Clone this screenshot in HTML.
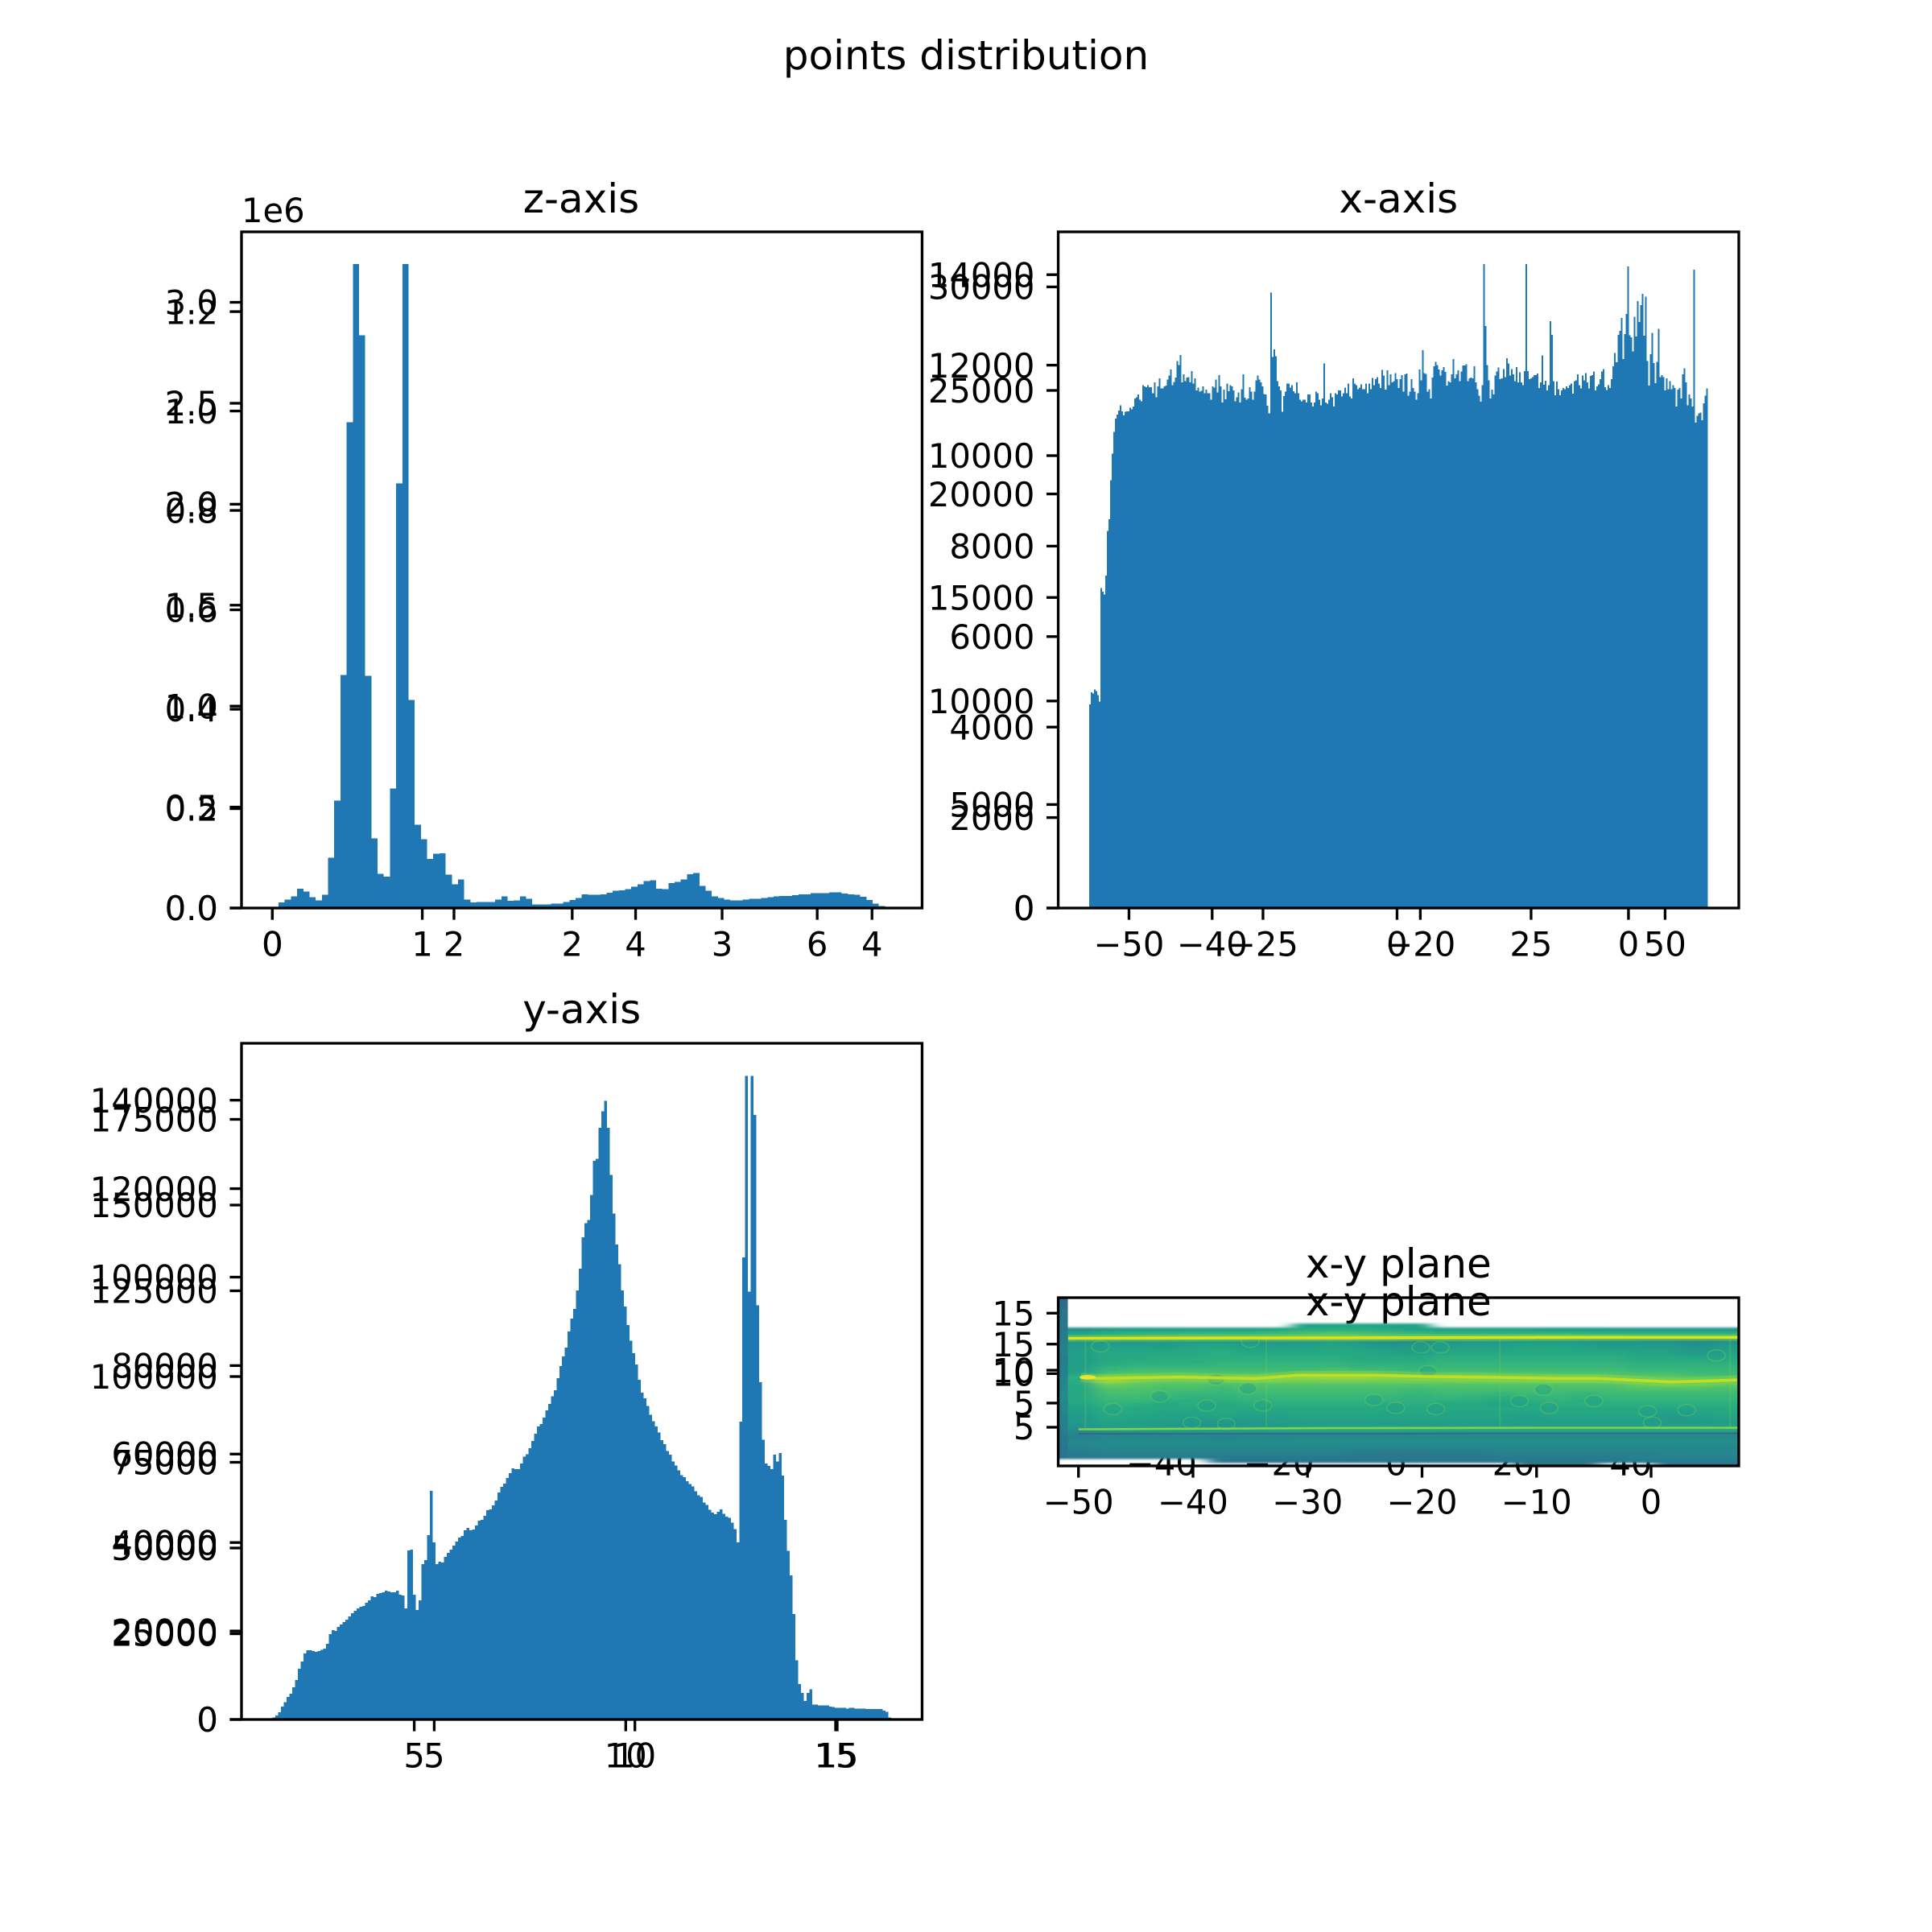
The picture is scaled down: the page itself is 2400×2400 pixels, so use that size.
<!DOCTYPE html>
<html lang="en">
<head>
<meta charset="utf-8">
<title>points distribution</title>
<style>
html,body{margin:0;padding:0;background:#fff;width:2400px;height:2400px;overflow:hidden}
svg{display:block}
text{font-family:"DejaVu Sans","Liberation Sans",sans-serif;fill:#000}
.tick{font-size:41.67px}
.title{font-size:50px;text-anchor:middle}
</style>
</head>
<body>
<svg id="fig" xmlns="http://www.w3.org/2000/svg" width="2400" height="2400" viewBox="0 0 2400 2400">
  <defs>
    <clipPath id="xy-clip"><rect x="1314.5" y="1612" width="845.5" height="209"/></clipPath>
    <filter id="heat-blur" filterUnits="userSpaceOnUse" x="1250" y="1620" width="980" height="220"><feGaussianBlur stdDeviation="10 1.2"/></filter>
  </defs>
  <rect x="0" y="0" width="2400" height="2400" fill="#fff"/>
  <text class="title" x="1200" y="86">points distribution</text>

  <g id="z-panel">
    <text class="title" x="722" y="264">z-axis</text>
    <text class="tick" x="300" y="276">1e6</text>
  </g>
  <g id="x-panel">
    <text class="title" x="1737.3" y="264">x-axis</text>
  </g>
  <g id="y-panel">
    <text class="title" x="722.7" y="1271">y-axis</text>
  </g>
  <g id="xy-under">
    <text class="title" x="1737.3" y="1634">x-y plane</text>
  </g>
  <g id="xy-heat" clip-path="url(#xy-clip)">
    <g id="xy-cells" filter="url(#heat-blur)"></g>
  </g>
  <g id="xy-over">
    <text class="title" x="1737.3" y="1587">x-y plane</text>
  </g>
</svg>
<script>
// ---------- z-axis histogram data (thousands of points per bin) ----------
const zCounts = [0,28,43,59,97,82,54,38,66,250,
534,1160,2417,3204,2851,1155,347,171,156,595,
2113,3204,1035,414,342,245,271,273,166,118,
143,43,28,31,31,31,43,59,36,38,
59,46,18,18,18,23,23,31,41,51,
69,66,66,69,77,87,89,95,107,118,
135,138,97,95,125,130,143,169,174,110,
87,59,51,43,38,38,43,46,46,51,
54,59,61,61,64,69,69,74,74,74,
79,79,72,69,66,56,41,23,10,3];
const zXTicksA = [0,1,2,3,4];
const zXTicksB = [0,2,4,6];
const zYTicksA = [0,0.5,1,1.5,2,2.5,3];
const zYTicksB = [0,0.2,0.4,0.6,0.8,1,1.2];

// ---------- x-axis histogram data (hundreds of points per bin) ----------
const xCounts = [98.6,104.5,103.9,105.8,105.2,103.2,100,155,153.3,152,161,182.8,188.4,207.2,220.2,230.6,237.1,239,241,243.6,240.7,238.7,240.4,240.7,240.7,242.3,241.6,243,246.9,247.5,248.8,246.2,245.5,
253.4,252.7,252.3,253.4,252.4,252.3,249.5,254.6,247.5,252.7,256.6,251.7,251.7,252.7,253.1,256,257.9,260.9,253.4,254.9,257,265.1,263.1,267.9,254.6,258.6,255.3,257.1,257.3,254.6,260.1,254,256.6,250.7,252.1,250.1,250.5,252.7,249.5,251.1,249.5,249.5,246.2,252.7,252.1,256,249.8,258.2,252.7,244.9,251.1,246.5,254,250.4,253.4,252.7,250.7,245.6,247.5,249.8,244.9,251.4,258.6,247.2,246.2,246.9,252.3,250.1,246.2,250.1,255.6,257.9,256,254.6,252.7,249.1,248.8,243.3,239.7,298.2,267,270.6,267.4,255.3,252.7,250.7,240.4,248.1,250.1,254,254,252.1,253.4,250.4,249.5,254.6,249.5,246.2,245.6,246.2,246.2,244.9,248.8,248.8,244.9,243,244.9,250.1,249.5,246.2,243.6,246.9,263.8,244.9,244.3,246.2,249.5,247.5,243,249.5,248.8,250.7,250.7,247.8,249.5,252.1,249.5,254,247.8,246.9,256.6,254,253.4,251.4,252.1,253.7,251.4,251.4,254,249.5,254,
251.4,256.9,253.4,256.2,257.3,254,252,260.8,257.9,251.1,260.5,253.4,258.6,254.7,255.3,259.2,256.2,252,256.2,258.2,250.1,258.6,258.9,248.2,250.1,256.2,252,250.1,246.2,249.5,260.9,255.7,270.3,259.2,258.8,250.1,251.4,246.9,257,262.5,264.7,263.1,260.9,257.9,260.5,262.1,259.7,253.1,255.3,254.7,258.6,266,256.6,258.6,260.5,255.3,259.9,262.8,262.8,263.5,255.3,256.6,257,256.6,262.5,254.7,251.4,248.2,245.3,253.4,312,281.9,263.1,255.7,246.9,251.1,248.8,257.9,259.9,261.8,256.2,256.6,261.2,257.3,266.4,263.8,257.9,261.2,258.6,255.3,262.1,254.7,259.6,254.7,253.4,260.1,312,260.1,256.3,256.6,257.3,258.2,258.2,258.9,252,254.7,267.7,253.6,255.4,250.8,253.4,284.3,277.7,255.3,248.4,255,251.4,248.4,250.8,252,251.4,252.7,252,253.4,254,249.2,255.3,255.7,258.6,253.4,251.7,257.9,255.7,259.2,254.7,251.7,257.8,258.2,259.9,250.8,252.7,253.7,256.2,259.9,261.2,252.3,251,253.4,252,256.2,262.5,269,264.4,277.7,279.6,285.9,266,278,287.8,310.8,277.4,276.5,269.6,286.5,277,294,283.9,292.1,297.6,277.3,296.3,265,253.1,268.3,278.7,264,254.3,264.7,280.7,257.3,258.2,257.3,250.8,256.6,251.4,255.3,251.4,253.4,252,243,251.1,252,246.9,258.6,261.5,254.7,243.6,248.8,246.9,243,309.3,235.2,238.4,239.7,240,236.3,244.6,248.2,251.8];
const xXTicksA = [-50,-25,0,25,50];
const xXTicksB = [-40,-20,0];
const xYTicksA = [0,5000,10000,15000,20000,25000,30000];
const xYTicksB = [0,2000,4000,6000,8000,10000,12000,14000];

// ---------- y-axis histogram data (thousands of points per bin) ----------
const yCounts = [0.6,1.2,2.1,3.8,5.1,6.6,7.5,9.4,11.5,14.8,16.9,19.2,20.2,20.2,19.9,19.7,19.9,20.3,20.6,22.1,24.9,26.1,25.8,27,27.7,28.4,29.1,30,31,31.7,32.4,32.9,33.1,34,34.7,35.9,35.7,36.6,36.8,37.1,37.6,37.3,37.1,37.1,37.6,36.4,36.1,32.4,49.3,49.5,36.4,31.9,34.7,45.3,46.5,53.7,66.7,51.6,45.3,46,45.8,47.4,48.6,49.5,50.7,51.9,53,53.5,55.2,55.9,55.2,55.4,56.6,58,58.2,59.4,61,61.3,62.4,63.8,66.2,67.8,68.8,70.4,71.8,73.2,73,73,74.6,76.7,77.4,79.1,81.2,83.3,85.4,86.1,88,90.1,92,94.3,96,
99.5,103,105.9,108.4,113.1,116.9,119.7,125.1,131.4,
140.6,144.7,145.7,152.9,162.9,163.5,172.5,177.4,180.4,172.5,158.8,147.5,138.5,132.8,125.1,120.4,115,110.5,106.8,103.5,99.1,95.3,93.7,91.4,88.9,87,85.4,83.7,81.4,80.3,78.3,77.2,75.2,74.1,72.7,71.3,70.6,69.5,68.7,68,66.5,65.4,64.9,63.3,62.6,61.1,60.3,59.9,60.6,61.3,60,59.2,58.8,57.4,55.5,51.6,86.8,134.7,187.7,124.8,187.7,176.3,120.8,98.3,81.6,74.6,73.9,73,77.2,75.2,77.7,71.1,58.2,49.2,42,30.7,17.3,10.3,7.7,5.4,7.7,8.8,4.4,4.4,4.1,4.1,4.1,4.1,3.8,3.6,3.4,3.4,3.4,3.4,3.2,3.4,3.4,3.2,3.2,3.2,3.2,3.1,3.1,3.1,3.1,3.1,3.1,2.6,2.2,0.6];
const yXTicksA = [5,10,15];
const yXTicksB = [5,10,15];
const yYTicksA = [0,25000,50000,75000,100000,125000,150000,175000];
const yYTicksB = [0,20000,40000,60000,80000,100000,120000,140000];

// ---------- x-y plane data ----------
const xyXTicksFront = [-50,-40,-30,-20,-10,0];
const xyYTicksFront = [5,10,15];
const xyXTicksBack = [-40,-20,0,20,40];
const xyYTicksBack = [5,10,15];
// density per cell, percent along the viridis colormap; 0 = empty cell
const heatDensity = [
[0,0,0,0,0,0,0,0,56,58,58,58,56,0,0,0,0,0,0,0,0,0,0,0],
[50,54,55,55,56,56,57,58,62,62,62,60,58,56,56,56,56,55,55,54,54,54,54,54],
[58,62,64,65,66,66,66,68,70,72,70,68,66,64,64,64,64,64,64,62,62,62,62,62],
[64,68,70,72,72,72,72,74,76,76,76,74,72,70,70,70,72,72,70,70,68,68,68,68],
[52,54,54,53,54,55,52,54,52,56,52,50,48,52,54,54,55,54,54,52,52,50,48,50],
[54,56,56,55,58,58,56,56,56,58,56,52,54,56,56,56,58,58,56,54,54,54,50,54],
[56,58,58,58,60,60,58,58,58,60,58,56,56,58,58,58,60,60,58,58,56,56,52,56],
[56,60,60,60,60,62,60,60,60,60,60,58,56,60,60,60,60,60,60,60,58,58,54,58],
[56,60,60,62,62,62,62,62,62,62,60,60,60,62,62,62,62,62,62,62,60,60,58,60],
[56,60,62,62,62,64,64,64,64,64,62,62,62,64,64,64,64,64,64,64,62,62,62,62],
[56,62,64,64,64,66,66,66,66,66,64,64,64,66,66,66,66,66,66,66,64,64,64,64],
[56,66,68,68,68,68,68,68,68,70,68,68,66,68,68,68,68,68,68,68,66,66,66,66],
[58,70,72,72,72,72,72,72,74,76,74,72,70,72,72,72,72,72,72,72,70,70,68,68],
[62,80,80,78,78,78,80,80,82,84,84,80,78,80,80,78,78,78,78,76,74,74,72,72],
[62,84,78,76,76,76,76,78,78,78,78,78,78,78,78,78,78,78,78,78,78,78,76,76],
[60,76,74,72,72,70,72,72,72,72,72,72,72,72,72,72,72,72,72,72,76,76,76,74],
[60,72,72,70,70,68,70,70,70,70,70,70,68,70,70,70,70,70,70,70,72,72,72,70],
[60,70,70,68,66,66,68,68,68,68,68,68,66,68,68,66,68,68,66,68,68,68,68,68],
[60,68,68,66,64,64,66,66,66,66,66,66,64,66,64,62,64,66,64,66,66,66,66,66],
[60,66,66,62,62,62,64,64,64,64,64,64,64,62,62,60,62,64,62,64,64,64,64,64],
[58,64,62,60,62,60,62,62,62,62,62,60,62,60,60,58,60,62,62,62,62,62,62,62],
[56,62,60,60,60,60,60,60,60,60,60,60,60,60,60,60,60,60,60,60,60,58,60,60],
[56,60,60,58,58,60,58,58,60,60,60,58,60,58,58,58,58,60,60,60,60,56,58,60],
[54,60,58,58,56,58,56,56,58,58,58,58,58,58,58,58,56,58,58,58,58,54,56,58],
[54,58,56,56,54,54,54,56,56,56,56,56,56,56,56,56,56,56,56,56,56,54,54,56],
[52,56,56,54,52,50,54,54,56,56,56,56,56,56,56,56,56,56,56,56,56,56,56,56],
[50,56,58,58,58,58,58,60,60,60,60,60,60,60,60,60,60,60,60,60,60,60,60,60],
[46,48,48,50,50,50,50,50,50,50,50,50,50,50,50,50,50,50,50,50,50,50,50,50],
[44,46,46,46,46,44,46,46,46,46,46,46,46,46,46,46,46,46,46,46,46,46,46,46],
[46,48,48,48,48,48,48,48,50,50,50,50,50,50,50,50,50,50,50,50,50,50,50,50],
[46,48,48,48,48,48,48,48,48,48,48,48,48,48,48,48,48,48,48,48,48,48,48,48],
[44,46,46,46,46,46,46,46,46,46,44,44,44,44,44,46,46,46,46,46,46,46,46,46],
[42,44,44,44,44,44,44,44,44,44,42,40,40,42,42,44,44,44,44,44,44,46,46,46],
[40,42,42,42,42,42,42,42,42,42,40,40,40,40,40,42,42,42,42,42,44,44,44,44],
[0,0,0,0,0,38,38,38,38,38,38,38,38,38,38,40,40,40,40,40,42,42,42,42],
[0,0,0,0,0,0,0,0,0,0,0,0,0,0,0,0,38,38,38,0,0,38,38,38]
];
const leftStripDensity = [34,38,40,42,44,42,44,46,48,46,44,42,40,38];
const ridgeX = [-49.8,-48.1,-41.2,-34.5,-30.9,-24,-19.7,-14.1,-8.1,-4.6,1.8,7.5];
const ridgeY = [9.38,9.28,9.4,9.26,9.56,9.56,9.45,9.38,9.28,9.28,8.97,9.14];
const upperEdgeX = [-50.9,-30,-10,7.66];
const upperEdgeY = [12.8,12.83,12.88,12.88];
const lowerEdgeX = [-50,-30,-10,7.66];
const lowerEdgeY = [4.82,4.92,4.95,4.95];
const darkEdgeX = [-50,-30,-10,7.66];
const darkEdgeY = [4.42,4.42,4.46,4.46];
const seamX = [-49.4,-33.6,-13.2,6.9];
const hotspotX = [-49.2];
const hotspotY = [9.38];
const blobX = [-47,-42.9,-38.8,-33.9,-40.1,-37.1,-35.2,-24.2,-22.3,-18.8,-11.5,-8.9,-5,-0.3,3.1,0.1,-20.1,-18.4,-48.1,-35,5.7,-9.4,-19.5,-38];
const blobY = [6.6,7.7,6.9,6.9,5.4,5.3,8.4,7.4,6.7,6.6,7.3,6.7,7.3,6.4,6.5,5.4,12,12,12.1,12.5,11.3,8.3,9.9,9.2];

// ---------- helpers ----------
const NS = 'http://www.w3.org/2000/svg';
const BAR_BLUE = '#1f77b4';
const TICK_LEN = 14.58, TICK_PAD = 14.58, SPINE = 3.33;
const viridisStops = ['#440154','#482878','#3e4989','#31688e','#26828e','#1f9e89','#35b779','#6ece58','#b5de2b','#fde725'];
function mk(tag, parent) {
  const e = document.createElementNS(NS, tag);
  parent.appendChild(e);
  return e;
}
function linear(d0, d1, r0, r1) {
  return v => r0 + (v - d0) / (d1 - d0) * (r1 - r0);
}
function viridis(p) {
  const t = Math.max(0, Math.min(0.9999, p / 100)) * (viridisStops.length - 1);
  const i = Math.floor(t), f = t - i;
  const a = viridisStops[i], b = viridisStops[i + 1];
  const ch = s => [1, 3, 5].map(k => parseInt(s.substr(k, 2), 16));
  const A = ch(a), B = ch(b);
  return 'rgb(' + A.map((c, k) => Math.round(c + (B[k] - c) * f)).join(',') + ')';
}
function label(v, digits) {
  const s = digits === undefined ? String(v) : v.toFixed(digits);
  return s.replace('-', '\u2212');
}
function drawBars(g, counts, unit, lo, hi, sx, sy) {
  const bw = (hi - lo) / counts.length;
  counts.forEach((c, i) => {
    const r = mk('rect', g);
    
    
    const x0 = sx(lo + i * bw), x1 = sx(lo + (i + 1) * bw), y = sy(c * unit), y0 = sy(0);
    r.setAttribute('x', x0);
    r.setAttribute('y', y);
    r.setAttribute('width', x1 - x0);
    r.setAttribute('height', y0 - y);
    r.setAttribute('fill', BAR_BLUE);
    r.setAttribute('shape-rendering', 'crispEdges');
  });
}
function drawXTicks(g, ticks, sx, bottom, digits) {
  ticks.forEach(v => {
    const px = sx(v);
    const m = mk('line', g);
    
    
    m.setAttribute('x1', px); m.setAttribute('x2', px);
    m.setAttribute('y1', bottom); m.setAttribute('y2', bottom + TICK_LEN);
    m.setAttribute('stroke', '#000'); m.setAttribute('stroke-width', SPINE);
    const t = mk('text', g);
    
    
    t.setAttribute('class', 'tick');
    t.setAttribute('x', px);
    t.setAttribute('y', bottom + TICK_LEN + TICK_PAD + 30.4);
    t.setAttribute('text-anchor', 'middle');
    t.textContent = label(v, digits);
  });
}
function drawYTicks(g, ticks, sy, left, digits) {
  ticks.forEach(v => {
    const py = sy(v);
    const m = mk('line', g);
    
    
    m.setAttribute('x1', left - TICK_LEN); m.setAttribute('x2', left);
    m.setAttribute('y1', py); m.setAttribute('y2', py);
    m.setAttribute('stroke', '#000'); m.setAttribute('stroke-width', SPINE);
    const t = mk('text', g);
    
    
    t.setAttribute('class', 'tick');
    t.setAttribute('x', left - TICK_LEN - TICK_PAD);
    t.setAttribute('y', py + 15.2);
    t.setAttribute('text-anchor', 'end');
    t.textContent = label(v, digits);
  });
}
function drawFrame(g, x0, y0, x1, y1) {
  const r = mk('rect', g);
  
  
  r.setAttribute('x', x0); r.setAttribute('y', y0);
  r.setAttribute('width', x1 - x0); r.setAttribute('height', y1 - y0);
  r.setAttribute('fill', 'none'); r.setAttribute('stroke', '#000'); r.setAttribute('stroke-width', SPINE);
}
function drawLine(g, xs, ys, sx, sy, color, width, opacity) {
  const p = mk('polyline', g);
  
  
  p.setAttribute('points', xs.map((v, i) => sx(v) + ',' + sy(ys[i])).join(' '));
  p.setAttribute('fill', 'none');
  p.setAttribute('stroke', color);
  p.setAttribute('stroke-width', width);
  p.setAttribute('stroke-opacity', opacity);
}

// ---------- z-axis panel ----------
(function () {
  const g = document.getElementById('z-panel');
  const L = 300, R = 1145.45, T = 288, B = 1128;
  const sxA = linear(-0.206, 4.334, L, R), sxB = linear(-0.34, 7.155, L, R);
  const syBars = linear(0, 3.365, B, T);
  const syA = linear(0, 3.349, B, T), syB = linear(0, 1.3605, B, T);
  drawBars(g, zCounts, 0.001, 0, 4.128, sxA, syBars);
  drawXTicks(g, zXTicksA, sxA, B);
  drawXTicks(g, zXTicksB, sxB, B);
  drawYTicks(g, zYTicksA, syA, L, 1);
  drawYTicks(g, zYTicksB, syB, L, 1);
  drawFrame(g, L, T, R, B);
})();

// ---------- x-axis panel ----------
(function () {
  const g = document.getElementById('x-panel');
  const L = 1314.55, R = 2160, T = 288, B = 1128;
  const sxA = linear(-63.2, 63.75, L, R), sxB = linear(-54.79, 10.6, L, R);
  const syBars = linear(0, 32761, B, T);
  const syA = linear(0, 32660, B, T), syB = linear(0, 14947, B, T);
  drawBars(g, xCounts, 100, -57.43, 57.99, sxA, syBars);
  drawXTicks(g, xXTicksA, sxA, B);
  drawXTicks(g, xXTicksB, sxB, B);
  drawYTicks(g, xYTicksA, syA, L);
  drawYTicks(g, xYTicksB, syB, L);
  drawFrame(g, L, T, R, B);
})();

// ---------- y-axis panel ----------
(function () {
  const g = document.getElementById('y-panel');
  const L = 300, R = 1145.45, T = 1296, B = 2136;
  const sxA = linear(0.199, 17.155, L, R), sxB = linear(0.916, 17.007, L, R);
  const syA = linear(0, 197183, B, T), syB = linear(0, 152866, B, T);
  drawBars(g, yCounts, 1000, 0.969, 16.384, sxA, syA);
  drawXTicks(g, yXTicksA, sxA, B);
  drawXTicks(g, yXTicksB, sxB, B);
  drawYTicks(g, yYTicksA, syA, L);
  drawYTicks(g, yYTicksB, syB, L);
  drawFrame(g, L, T, R, B);
})();

// ---------- x-y plane panel ----------
(function () {
  const under = document.getElementById('xy-under');
  const heat = document.getElementById('xy-heat');
  const cellsGroup = document.getElementById('xy-cells');
  const over = document.getElementById('xy-over');
  const L = 1314.55, R = 2160, T = 1612, B = 1821;
  const sxBack = linear(-57.6, 58.4, L, R), syBack = linear(0.9, 16.6, 1773, 1658);
  drawXTicks(under, xyXTicksBack, sxBack, 1772.7);
  drawYTicks(under, xyYTicksBack, syBack, L);

  const sx = linear(-51.77, 7.66, L, R), sy = linear(1.61, 16.36, B, T);
  const xMin = -50.93, xMax = 7.66, yTop = 14.1, rowH = 0.35;
  const cols = heatDensity[0].length, colW = (xMax - xMin) / cols;
  heatDensity.forEach((row, r) => {
    row.forEach((d, c) => {
      if (!d) return;
      const cell = mk('rect', cellsGroup);
      
      
      // outer columns bleed past the clip so the horizontal smoothing keeps full colour at the edges
      const x0 = sx(xMin + c * colW) - (c === 0 ? 40 : 0);
      const x1 = sx(xMin + (c + 1) * colW) + (c === cols - 1 ? 40 : 0);
      const y0 = sy(yTop - r * rowH), y1 = sy(yTop - (r + 1) * rowH);
      cell.setAttribute('x', x0); cell.setAttribute('y', y0);
      cell.setAttribute('width', x1 - x0); cell.setAttribute('height', y1 - y0);
      cell.setAttribute('fill', viridis(d));
      cell.setAttribute('shape-rendering', 'crispEdges');
    });
  });
  const stripTop = 16.36, stripBottom = 2.3;
  const stripH = (stripTop - stripBottom) / leftStripDensity.length;
  leftStripDensity.forEach((d, i) => {
    const s = mk('rect', heat);
    
    
    const y0 = sy(stripTop - i * stripH), y1 = sy(stripTop - (i + 1) * stripH);
    s.setAttribute('x', sx(-51.77)); s.setAttribute('y', y0);
    s.setAttribute('width', sx(-50.93) - sx(-51.77)); s.setAttribute('height', y1 - y0);
    s.setAttribute('fill', viridis(d));
    s.setAttribute('shape-rendering', 'crispEdges');
  });
  blobX.forEach((v, i) => {
    const e = mk('ellipse', heat);
    
    
    e.setAttribute('cx', sx(v)); e.setAttribute('cy', sy(blobY[i]));
    e.setAttribute('rx', 11); e.setAttribute('ry', 7);
    e.setAttribute('fill', '#1f9e89'); e.setAttribute('fill-opacity', 0.4);
    e.setAttribute('stroke', '#8fd744'); e.setAttribute('stroke-opacity', 0.3);
    e.setAttribute('stroke-width', 1.5);
  });
  seamX.forEach(v => {
    const s = mk('line', heat);
    
    
    s.setAttribute('x1', sx(v)); s.setAttribute('x2', sx(v));
    s.setAttribute('y1', sy(12.9)); s.setAttribute('y2', sy(4.9));
    s.setAttribute('stroke', '#7ad151'); s.setAttribute('stroke-opacity', 0.25);
    s.setAttribute('stroke-width', 2);
  });
  drawLine(heat, darkEdgeX, darkEdgeY, sx, sy, '#3e4989', 2, 0.5);
  drawLine(heat, lowerEdgeX, lowerEdgeY, sx, sy, '#8fd744', 2.5, 0.9);
  drawLine(heat, upperEdgeX, upperEdgeY, sx, sy, '#8fd744', 9, 0.3);
  drawLine(heat, upperEdgeX, upperEdgeY, sx, sy, '#dce319', 3.5, 1);
  drawLine(heat, ridgeX, ridgeY, sx, sy, '#a0da39', 11, 0.3);
  drawLine(heat, ridgeX, ridgeY, sx, sy, '#c2df23', 3.5, 0.95);
  hotspotX.forEach((v, i) => {
    const h = mk('ellipse', heat);
    
    
    h.setAttribute('cx', sx(v)); h.setAttribute('cy', sy(hotspotY[i]));
    h.setAttribute('rx', 10); h.setAttribute('ry', 3);
    h.setAttribute('fill', '#fde725'); h.setAttribute('fill-opacity', 0.8);
  });

  drawXTicks(over, xyXTicksFront, sx, B);
  drawYTicks(over, xyYTicksFront, sy, L);
  drawFrame(over, L, T, R, B);
})();
</script>
</body>
</html>
